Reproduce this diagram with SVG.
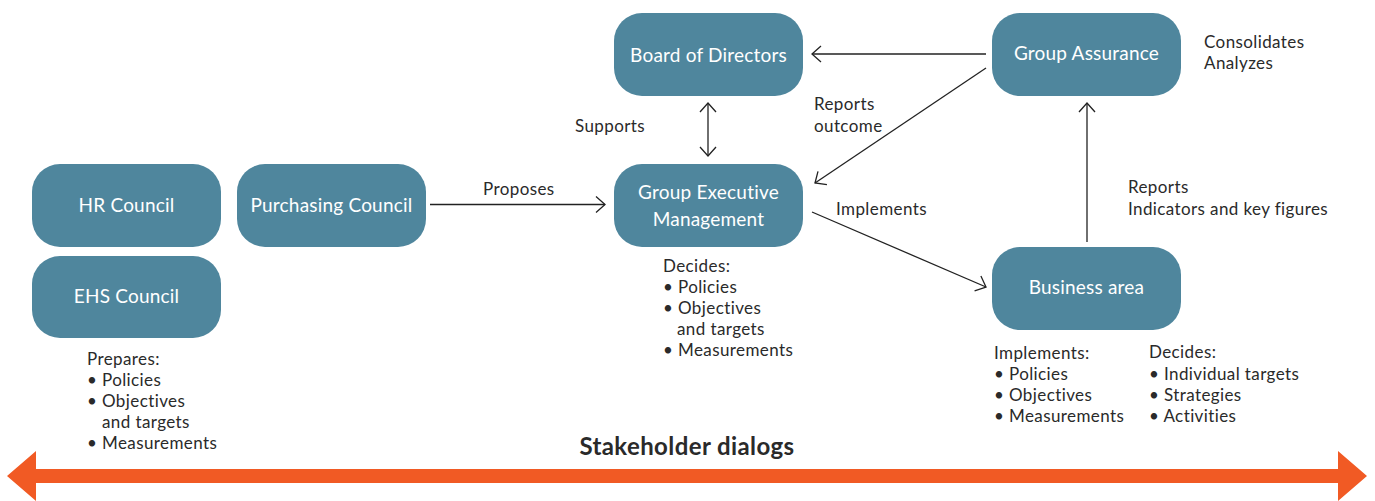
<svg xmlns="http://www.w3.org/2000/svg" width="1375" height="501" viewBox="0 0 1375 501">
<style>
.node rect{fill:#4f869d}
.node text{fill:#ffffff;font-family:Lato,"Open Sans",sans-serif;font-size:19px;letter-spacing:0.2px;text-anchor:middle}
.lbl{fill:#2a2a2a;font-family:Lato,"Open Sans",sans-serif;font-size:17px;letter-spacing:0.4px}
.conn line{stroke:#222;stroke-width:1.3;fill:none}
.title{fill:#2a2a2a;font-family:Lato,"Open Sans",sans-serif;font-size:24px;letter-spacing:0.4px;font-weight:bold;text-anchor:middle}
</style>
<defs>
<marker id="ah" markerUnits="userSpaceOnUse" markerWidth="20" markerHeight="20" viewBox="-12 -10 14 20" refX="0" refY="0" orient="auto-start-reverse">
<path d="M-9,-8 L0,0 L-9,8" fill="none" stroke="#222" stroke-width="1.3"/>
</marker>
</defs>
<rect width="1375" height="501" fill="#ffffff"/>

<g id="hr-council" class="node"><rect x="32" y="164" width="189" height="83" rx="28"/><text x="126.5" y="212">HR Council</text></g>
<g id="ehs-council" class="node"><rect x="32" y="256" width="189" height="82" rx="28"/><text x="126.5" y="303">EHS Council</text></g>
<g id="purchasing-council" class="node"><rect x="237" y="164" width="189" height="83" rx="28"/><text x="331.5" y="212">Purchasing Council</text></g>
<g id="board" class="node"><rect x="614" y="13" width="189" height="83" rx="28"/><text x="708.5" y="62">Board of Directors</text></g>
<g id="gem" class="node"><rect x="614" y="164" width="189" height="83" rx="28"/><text x="708.5" y="199">Group Executive</text><text x="708.5" y="226">Management</text></g>
<g id="group-assurance" class="node"><rect x="992" y="13" width="189" height="83" rx="28"/><text x="1086.5" y="60">Group Assurance</text></g>
<g id="business-area" class="node"><rect x="992" y="247" width="189" height="83" rx="28"/><text x="1086.5" y="294">Business area</text></g>

<g id="connectors" class="conn">
<line x1="430" y1="204.5" x2="605" y2="204.5" marker-end="url(#ah)"/>
<line x1="708" y1="103" x2="708" y2="156" marker-start="url(#ah)" marker-end="url(#ah)"/>
<line x1="986" y1="54" x2="812" y2="54" marker-end="url(#ah)"/>
<line x1="986" y1="68" x2="815" y2="183" marker-end="url(#ah)"/>
<line x1="812" y1="212" x2="986" y2="287" marker-end="url(#ah)"/>
<line x1="1087" y1="242" x2="1087" y2="103" marker-end="url(#ah)"/>
</g>

<g id="labels" class="lbl">
<text x="483" y="195">Proposes</text>
<text x="575" y="132">Supports</text>
<text x="814" y="110">Reports</text>
<text x="814" y="132">outcome</text>
<text x="836" y="215">Implements</text>
<text x="1128" y="193">Reports</text>
<text x="1128" y="215">Indicators and key figures</text>
<text x="1204" y="48">Consolidates</text>
<text x="1204" y="69">Analyzes</text>
<text x="87" y="365">Prepares:</text>
<text x="87" y="386">• Policies</text>
<text x="87" y="407">• Objectives</text>
<text x="102" y="428">and targets</text>
<text x="87" y="449">• Measurements</text>
<text x="663" y="272">Decides:</text>
<text x="663" y="293">• Policies</text>
<text x="663" y="314">• Objectives</text>
<text x="677" y="335">and targets</text>
<text x="663" y="356">• Measurements</text>
<text x="994" y="359">Implements:</text>
<text x="994" y="380">• Policies</text>
<text x="994" y="401">• Objectives</text>
<text x="994" y="422">• Measurements</text>
<text x="1149" y="358">Decides:</text>
<text x="1149" y="380">• Individual targets</text>
<text x="1149" y="401">• Strategies</text>
<text x="1149" y="422">• Activities</text>
</g>

<g id="stakeholder-dialogs">
<text class="title" x="687" y="455">Stakeholder dialogs</text>
<path d="M7,476 L36,451 L36,469 L1338,469 L1338,451 L1367,476 L1338,501 L1338,483 L36,483 L36,501 Z" fill="#f15a24"/>
</g>
</svg>
